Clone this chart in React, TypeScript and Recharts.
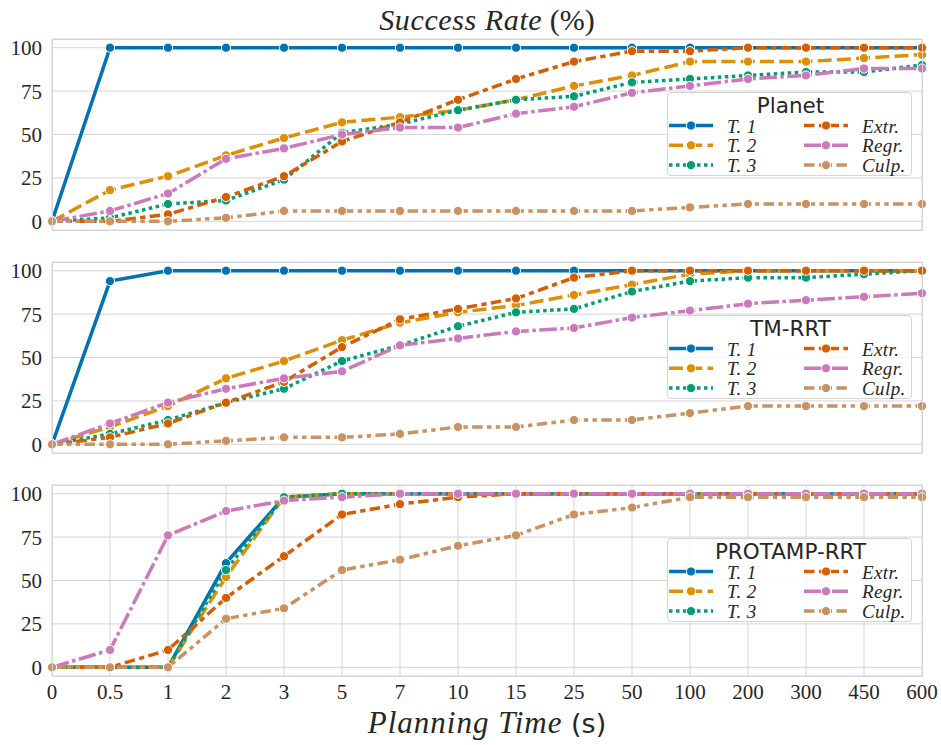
import React from "react";
import { LineChart, Line, XAxis, YAxis, CartesianGrid } from "recharts";

// x categories (planning time, s)
const times = ["0", "0.5", "1", "2", "3", "5", "7", "10", "15", "25", "50", "100", "200", "300", "450", "600"];
const yTicks = [0, 25, 50, 75, 100];

// Planet
const planetT1 = [0, 100, 100, 100, 100, 100, 100, 100, 100, 100, 100, 100, 100, 100, 100, 100];
const planetT2 = [0, 18, 26, 38, 48, 57, 60, 64, 70, 78, 84, 92, 92, 92, 94, 96];
const planetT3 = [0, 2, 10, 12, 24, 51, 56, 64, 70, 72, 80, 82, 84, 86, 86, 90];
const planetExtr = [0, 0, 4, 14, 26, 46, 57, 70, 82, 92, 98, 98, 100, 100, 100, 100];
const planetRegr = [0, 6, 16, 36, 42, 50, 54, 54, 62, 66, 74, 78, 82, 84, 88, 88];
const planetCulp = [0, 0, 0, 2, 6, 6, 6, 6, 6, 6, 6, 8, 10, 10, 10, 10];

// TM-RRT
const tmT1 = [0, 94, 100, 100, 100, 100, 100, 100, 100, 100, 100, 100, 100, 100, 100, 100];
const tmT2 = [0, 10, 22, 38, 48, 60, 70, 76, 80, 86, 92, 98, 100, 100, 100, 100];
const tmT3 = [0, 6, 14, 24, 32, 48, 57, 68, 76, 78, 88, 94, 96, 96, 98, 100];
const tmExtr = [0, 4, 12, 24, 36, 56, 72, 78, 84, 96, 100, 100, 100, 100, 100, 100];
const tmRegr = [0, 12, 24, 32, 38, 42, 57, 61, 65, 67, 73, 77, 81, 83, 85, 87];
const tmCulp = [0, 0, 0, 2, 4, 4, 6, 10, 10, 14, 14, 18, 22, 22, 22, 22];

// PROTAMP-RRT
const proT1 = [0, 0, 0, 60, 98, 100, 100, 100, 100, 100, 100, 100, 100, 100, 100, 100];
const proT2 = [0, 0, 0, 52, 98, 100, 100, 100, 100, 100, 100, 100, 100, 100, 100, 100];
const proT3 = [0, 0, 0, 56, 98, 100, 100, 100, 100, 100, 100, 100, 100, 100, 100, 100];
const proExtr = [0, 0, 10, 40, 64, 88, 94, 98, 100, 100, 100, 100, 100, 100, 100, 100];
const proRegr = [0, 10, 76, 90, 96, 98, 100, 100, 100, 100, 100, 100, 100, 100, 100, 100];
const proCulp = [0, 0, 0, 28, 34, 56, 62, 70, 76, 88, 92, 98, 98, 98, 98, 98];

const TEXT = "#262626";
const GRID = "#d5d5d5";
const SERIF = "'Liberation Serif', 'DejaVu Serif', serif";
const SANS = "'DejaVu Sans', sans-serif";
const LW = 3.5;

const SERIES = [
  { key: "t1", name: "T. 1", color: "#0173b2", dash: undefined as string | undefined },
  { key: "t2", name: "T. 2", color: "#de8f05", dash: `${4 * LW} ${1.5 * LW}` },
  { key: "t3", name: "T. 3", color: "#029e73", dash: `${LW} ${LW}` },
  { key: "extr", name: "Extr.", color: "#d55e00", dash: `${3 * LW} ${1.25 * LW} ${1.5 * LW} ${1.25 * LW}` },
  { key: "regr", name: "Regr.", color: "#cc78bc", dash: `${5 * LW} ${LW} ${LW} ${LW}` },
  { key: "culp", name: "Culp.", color: "#ca9161", dash: `${3 * LW} ${1.25 * LW} ${1.25 * LW} ${1.25 * LW} ${1.25 * LW} ${1.25 * LW}` },
];

function rows(t1: number[], t2: number[], t3: number[], extr: number[], regr: number[], culp: number[]) {
  return times.map((time, i) => ({ time, t1: t1[i], t2: t2[i], t3: t3[i], extr: extr[i], regr: regr[i], culp: culp[i] }));
}

const PANELS = [
  { title: "Planet", top: 39, data: rows(planetT1, planetT2, planetT3, planetExtr, planetRegr, planetCulp) },
  { title: "TM-RRT", top: 262, data: rows(tmT1, tmT2, tmT3, tmExtr, tmRegr, tmCulp) },
  { title: "PROTAMP-RRT", top: 485, data: rows(proT1, proT2, proT3, proExtr, proRegr, proCulp) },
];

const PLOT_LEFT = 52;
const PLOT_W = 870;
const PLOT_H = 191;

function dotFor(color: string) {
  return (p: any) => (
    <circle key={`d-${p.index}`} cx={p.cx} cy={p.cy} r={4.6} fill={color} stroke="#fff" strokeWidth={1} />
  );
}

function PanelLegend({ title }: { title: string }) {
  const cols = [
    { x0: 1, label: 59, items: SERIES.slice(0, 3) },
    { x0: 136, label: 194, items: SERIES.slice(3) },
  ];
  return (
    <svg width={245} height={84} style={{ display: "block" }}>
      <text x={122.5} y={19.5} textAnchor="middle" fontFamily={SANS} fontSize={21.5} fill={TEXT}>
        {title}
      </text>
      {cols.map((c) =>
        c.items.map((s, i) => {
          const y = 32.5 + i * 19.8;
          return (
            <g key={s.key}>
              <line x1={c.x0} x2={c.x0 + 44} y1={y} y2={y} stroke={s.color} strokeWidth={LW} strokeDasharray={s.dash} />
              <circle cx={c.x0 + 22} cy={y} r={4.6} fill={s.color} stroke="#fff" strokeWidth={1} />
              <text x={c.label} y={y + 7} fontFamily={SERIF} fontStyle="italic" fontSize={19} letterSpacing={0.4} fill={TEXT}>
                {s.name}
              </text>
            </g>
          );
        })
      )}
    </svg>
  );
}

function Panel({ title, top, data, last }: { title: string; top: number; data: any[]; last: boolean }) {
  const axisH = last ? 36 : 0;
  return (
    <>
      <div style={{ position: "absolute", left: 0, top: top - 10 }}>
        <LineChart
          width={941}
          height={10 + PLOT_H + axisH + 10}
          data={data}
          margin={{ top: 10, right: 941 - PLOT_LEFT - PLOT_W, left: 8, bottom: 10 }}
        >
          <CartesianGrid stroke={GRID} strokeWidth={1} />
          <XAxis
            dataKey="time"
            type="category"
            scale="point"
            height={axisH}
            tick={last ? { fontFamily: SERIF, fontSize: 21, fill: TEXT } : false}
            tickLine={false}
            axisLine={false}
            tickSize={0}
            tickMargin={8}
            interval={0}
          />
          <YAxis
            width={44}
            domain={[-5, 105]}
            ticks={yTicks}
            tick={{ fontFamily: SERIF, fontSize: 21, fill: TEXT }}
            tickLine={false}
            axisLine={false}
            tickSize={0}
            tickMargin={10}
            interval={0}
          />
          {SERIES.map((s) => (
            <Line
              key={s.key}
              dataKey={s.key}
              name={s.name}
              type="linear"
              stroke={s.color}
              strokeWidth={LW}
              strokeDasharray={s.dash}
              dot={dotFor(s.color)}
              activeDot={false}
              isAnimationActive={false}
            />
          ))}
        </LineChart>
      </div>
      <div
        style={{
          position: "absolute",
          left: PLOT_LEFT,
          top,
          width: PLOT_W + 1,
          height: PLOT_H + 1,
          boxSizing: "border-box",
          border: `1px solid ${GRID}`,
          pointerEvents: "none",
        }}
      />
      <div
        style={{
          position: "absolute",
          left: 667,
          top: top + 53,
          width: 245,
          height: 84,
          boxSizing: "border-box",
          background: "rgba(255,255,255,0.8)",
          border: `1px solid ${GRID}`,
          borderRadius: 4,
        }}
      >
        <PanelLegend title={title} />
      </div>
    </>
  );
}

export default function App() {
  return (
    <div style={{ position: "absolute", left: 0, top: 0, width: 941, height: 745, background: "#fff", overflow: "hidden" }}>
      {PANELS.map((p, i) => (
        <Panel key={p.title} title={p.title} top={p.top} data={p.data} last={i === PANELS.length - 1} />
      ))}
      <svg width={941} height={745} style={{ position: "absolute", left: 0, top: 0, pointerEvents: "none" }}>
        <text x={487} y={30} textAnchor="middle" fontFamily={SERIF} fontSize={30} fill={TEXT}>
          <tspan fontStyle="italic" letterSpacing={0.6}>Success Rate</tspan>
          <tspan> (%)</tspan>
        </text>
        <text x={487} y={733} textAnchor="middle" fontFamily={SERIF} fontSize={31} fill={TEXT}>
          <tspan fontStyle="italic" letterSpacing={1}>Planning Time</tspan>
          <tspan fontFamily={SANS} fontSize={27}> (s)</tspan>
        </text>
      </svg>
    </div>
  );
}
